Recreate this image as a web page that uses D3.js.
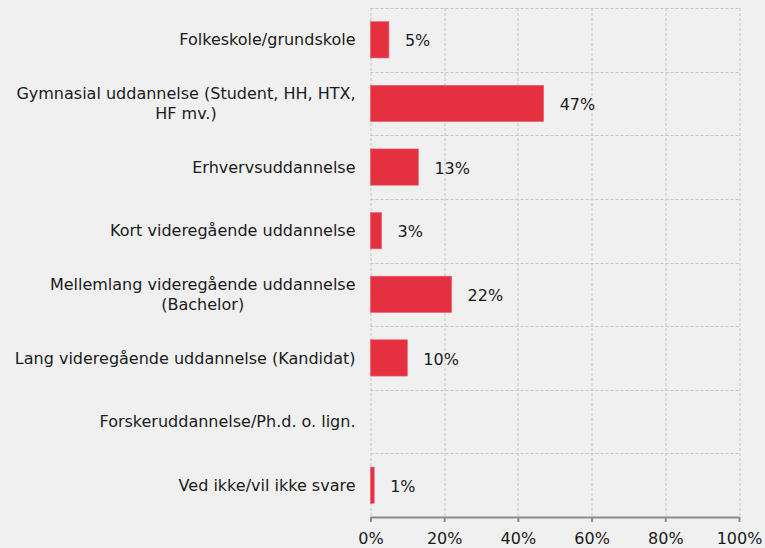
<!DOCTYPE html>
<meta charset="utf-8">
<script src="https://d3js.org/d3.v7.min.js"></script>
<style>
  body { margin: 0; background: #f0f0f0; }
  text { font-family: "DejaVu Sans", Verdana, sans-serif; fill: #1a1a1a; }
</style>
<div id="my_dataviz"></div>
<script>

// data
var categories = [
  "Folkeskole/grundskole",
  "Gymnasial uddannelse (Student, HH, HTX,\nHF mv.)",
  "Erhvervsuddannelse",
  "Kort videregående uddannelse",
  "Mellemlang videregående uddannelse\n(Bachelor)",
  "Lang videregående uddannelse (Kandidat)",
  "Forskeruddannelse/Ph.d. o. lign.",
  "Ved ikke/vil ikke svare"
];
var values = [5, 47, 13, 3, 22, 10, null, 1];
var ticks = [0, 20, 40, 60, 80, 100];

var margin = {top: 8, right: 26, bottom: 31, left: 370.5},
    width = 765 - margin.left - margin.right,
    height = 548 - margin.top - margin.bottom;

var svg = d3.select("#my_dataviz")
  .append("svg")
    .attr("width", 765)
    .attr("height", 548)
  .append("g")
    .attr("transform", "translate(" + margin.left + "," + margin.top + ")");

var x = d3.scaleLinear().domain([0, 100]).range([0, width]);
var y = d3.scaleBand().domain(d3.range(categories.length)).range([0, height]).paddingInner(0.43).paddingOuter(0.215);

// rows with their index, empty ones dropped
var rows = values.map(function(v, i) { return {i: i, v: v}; })
  .filter(function(d) { return d.v != null; });

// grid: vertical
svg.selectAll(".vgrid")
  .data(ticks)
  .enter().append("line")
    .attr("x1", function(d) { return Math.round(x(d)) + 0.5; })
    .attr("x2", function(d) { return Math.round(x(d)) + 0.5; })
    .attr("y1", 0)
    .attr("y2", height)
    .style("stroke", "#c4c4c4")
    .style("stroke-dasharray", "3,2");

// grid: horizontal band boundaries
var step = height / categories.length;
svg.selectAll(".hgrid")
  .data(d3.range(categories.length))
  .enter().append("line")
    .attr("x1", 0)
    .attr("x2", width)
    .attr("y1", function(d) { return Math.round(d * step) + 0.5; })
    .attr("y2", function(d) { return Math.round(d * step) + 0.5; })
    .style("stroke", "#c4c4c4")
    .style("stroke-dasharray", "3,2");

// x axis
var xAxis = svg.append("g")
  .attr("transform", "translate(0," + height + ")")
  .call(d3.axisBottom(x).tickValues(ticks).tickSize(5).tickSizeOuter(0)
    .tickFormat(function(d) { return d + "%"; }));
xAxis.select(".domain").style("stroke", "#8c8c8c").style("stroke-width", 2);
xAxis.selectAll(".tick line").style("stroke", "#8c8c8c").style("stroke-width", 2);
xAxis.selectAll(".tick text")
  .attr("y", 16)
  .style("font-size", "16px")
  .style("font-family", "'DejaVu Sans', Verdana, sans-serif")
  .style("fill", "#1a1a1a");

// bars
svg.selectAll(".bar")
  .data(rows)
  .enter().append("rect")
    .attr("class", "bar")
    .attr("x", 0)
    .attr("y", function(d) { return y(d.i); })
    .attr("width", function(d) { return x(d.v); })
    .attr("height", y.bandwidth())
    .style("fill", "#e4303f")
    .style("stroke", "#ec5f6a")
    .style("stroke-width", 0.6);

// value labels
svg.selectAll(".val")
  .data(rows)
  .enter().append("text")
    .attr("class", "val")
    .attr("x", function(d) { return x(d.v) + 16; })
    .attr("y", function(d) { return y(d.i) + y.bandwidth() / 2 + 1; })
    .attr("dy", "0.35em")
    .style("font-size", "16px")
    .text(function(d) { return d.v + "%"; });

// category labels
categories.forEach(function(c, i) {
  var lines = c.split("\n");
  var t = svg.append("text")
    .attr("text-anchor", "middle")
    .style("font-size", "16px");
  var cy = y(i) + y.bandwidth() / 2;
  lines.forEach(function(l, j) {
    t.append("tspan")
      .attr("x", 0)
      .attr("y", cy + (j - (lines.length - 1) / 2) * 19.5)
      .attr("dy", "0.35em")
      .text(l);
  });
  // right-align the block, centre lines inside it
  var w = t.node().getBBox().width;
  t.attr("transform", "translate(" + (-15 - w / 2) + ",0)");
});

</script>
